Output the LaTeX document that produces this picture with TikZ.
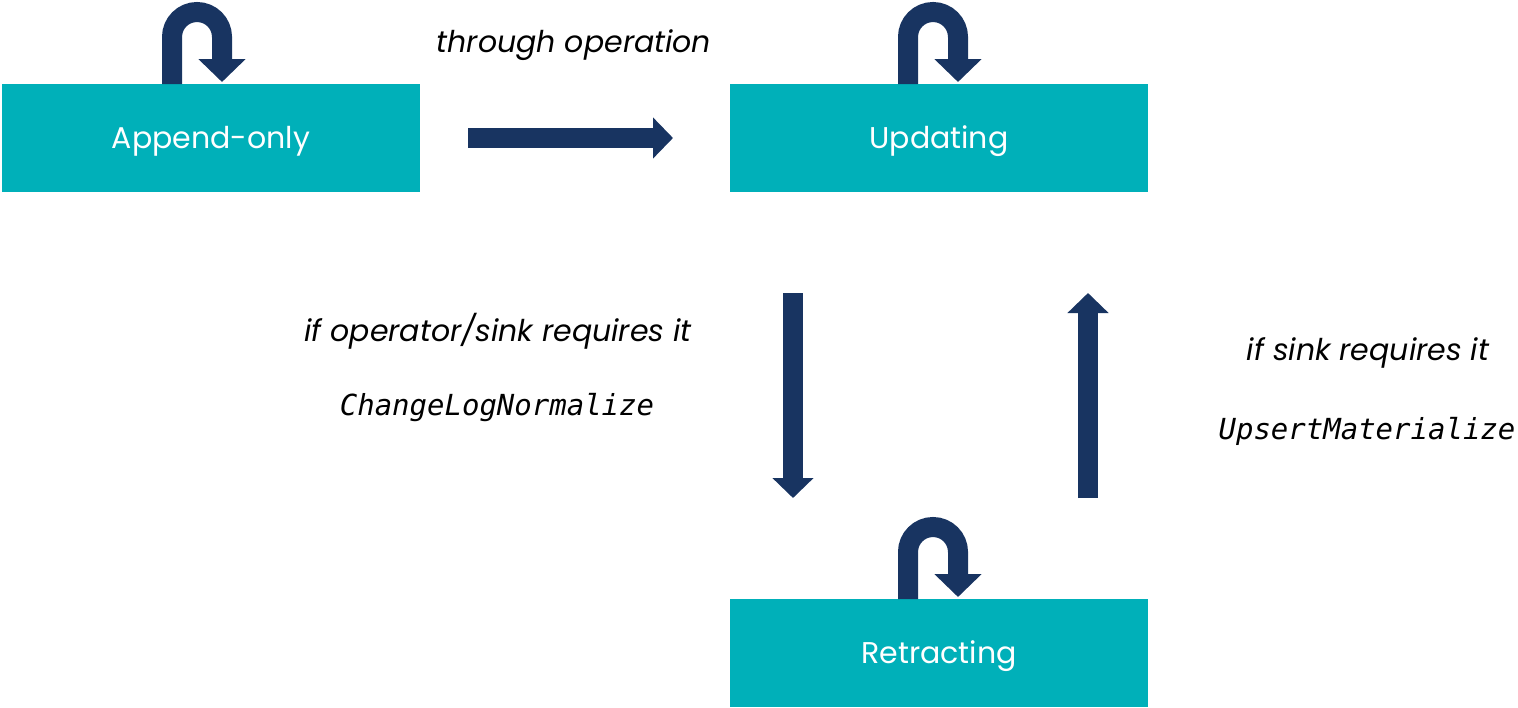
\documentclass[tikz,border=0pt]{standalone}
\usepackage{fontspec}
\setmainfont{Poppins}
\setmonofont{DejaVu Sans Mono}
\usetikzlibrary{arrows.meta}
\definecolor{boxteal}{RGB}{0,176,185}
\definecolor{navy}{RGB}{24,52,97}
\tikzset{
  statebox/.style={fill=boxteal, draw=none, minimum width=418pt, minimum height=108pt,
    inner sep=0pt, text=white, text height=24pt, text depth=4pt, font=\fontsize{30}{36}\selectfont},
  bigarrow/.style={draw=navy, line width=20pt, -{Triangle[length=20pt,width=40pt]}},
  loop/.style={draw=navy, line width=20pt, -{Triangle[length=23pt,width=46pt]}},
  lbl/.style={font=\fontsize{30}{36}\selectfont\itshape, text=black, inner sep=0pt},
  code/.style={font=\fontsize{29}{34}\selectfont\ttfamily\itshape, text=black, inner sep=0pt}
}
\begin{document}
\begin{tikzpicture}[x=1pt,y=1pt]
\useasboundingbox (0,0) rectangle (1518,-707);
% state boxes
\node[statebox] (append) at (211,-138) {Append-only};
\node[statebox] (updating) at (939,-138) {Updating};
\node[statebox] (retracting) at (939,-653) {Retracting};
% self loops
\coordinate (aS) at (172,-84);  \coordinate (aE) at (222,-82);
\coordinate (uS) at (908,-84);  \coordinate (uE) at (958,-82);
\coordinate (rS) at (908,-599); \coordinate (rE) at (958,-597);
\draw[loop] (aS) -- ++(0,47) arc[start angle=180,end angle=0,radius=25pt] -- (aE);
\draw[loop] (uS) -- ++(0,47) arc[start angle=180,end angle=0,radius=25pt] -- (uE);
\draw[loop] (rS) -- ++(0,47) arc[start angle=180,end angle=0,radius=25pt] -- (rE);
% transitions
\coordinate (h1) at (468,-138); \coordinate (h2) at (673,-138);
\coordinate (d1) at (793,-293); \coordinate (d2) at (793,-498);
\coordinate (u1) at (1088,-498); \coordinate (u2) at (1088,-293);
\draw[bigarrow] (h1) -- (h2);
\draw[bigarrow] (d1) -- (d2);
\draw[bigarrow] (u1) -- (u2);
% labels
\node[lbl] (t1) at (574,-45) {through operation};
\node[lbl] (t2) at (498,-331) {if operator/sink requires it};
\node[code] (t3) at (497,-408) {ChangeLogNormalize};
\node[lbl] (t4) at (1368,-353) {if sink requires it};
\node[code] (t5) at (1367,-431) {UpsertMaterialize};
\end{tikzpicture}
\end{document}
